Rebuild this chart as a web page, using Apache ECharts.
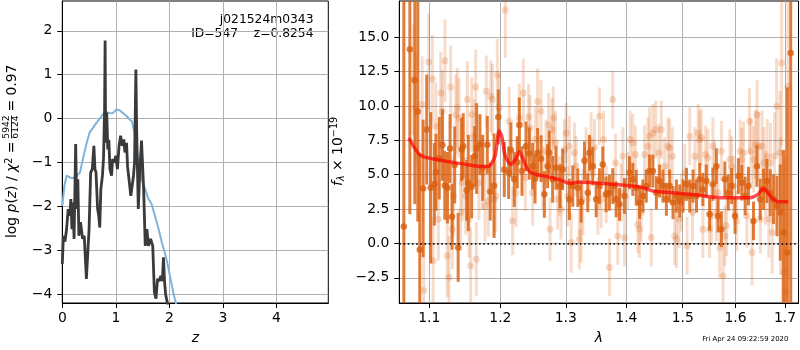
<!DOCTYPE html>
<html><head><meta charset="utf-8">
<script src="https://cdn.jsdelivr.net/npm/echarts@6/dist/echarts.min.js"></script>
<style>html,body{margin:0;padding:0;background:#fff}#c{width:800px;height:350px}</style>
</head><body><div id="c"></div>
<script>
// ---------- Left panel: log p(z) ----------
const zBlack = [0.00,0.02,0.05,0.08,0.11,0.14,0.16,0.18,0.20,0.22,0.25,0.27,0.29,0.31,0.34,0.38,0.41,0.45,0.48,0.50,0.53,0.56,0.59,0.61,0.63,0.66,0.68,0.70,0.72,0.75,0.77,0.79,0.80,0.81,0.83,0.85,0.87,0.89,0.92,0.94,0.97,1.00,1.03,1.06,1.09,1.12,1.15,1.17,1.20,1.22,1.26,1.28,1.30,1.33,1.35,1.375,1.39,1.42,1.45,1.48,1.52,1.55,1.58,1.61,1.65,1.69,1.72,1.75,1.78,1.81,1.84,1.87,1.89,1.91,1.93,1.96,2.00];
const logpBlack = [-3.31,-2.67,-2.80,-2.52,-2.06,-2.21,-1.83,-2.52,-1.91,-2.74,-0.58,-2.06,-1.38,-2.67,-2.36,-2.74,-2.67,-3.65,-2.97,-2.52,-1.23,-1.15,-0.62,-1.15,-1.23,-2.06,-2.21,-2.48,-1.61,-1.30,-0.90,0.20,1.78,-0.55,0.14,-0.70,-0.48,-1.15,-1.30,-0.92,-1.00,-0.85,-1.15,-0.62,-0.39,-0.62,-0.47,-0.77,-0.55,-1.10,-1.53,-1.76,-1.76,-1.30,-1.00,1.12,-0.32,-2.06,-1.15,-0.50,-1.61,-2.90,-2.52,-2.90,-2.74,-2.90,-3.95,-4.10,-3.65,-3.70,-3.58,-3.70,-3.16,-3.70,-4.00,-4.18,-4.60];
const zBlue = [0.00,0.04,0.08,0.14,0.20,0.27,0.33,0.39,0.45,0.51,0.58,0.64,0.70,0.76,0.82,0.89,0.95,1.01,1.07,1.14,1.20,1.26,1.30,1.35,1.39,1.45,1.48,1.55,1.61,1.67,1.74,1.80,1.86,1.93,1.99,2.03,2.08,2.14,2.20];
const logpBlue = [-1.99,-1.53,-1.30,-1.34,-1.36,-1.30,-1.23,-0.89,-0.58,-0.32,-0.20,-0.09,0.00,0.10,0.15,0.12,0.13,0.21,0.19,0.12,0.06,-0.02,-0.06,-0.32,-0.70,-1.08,-1.38,-1.61,-1.83,-1.95,-2.25,-2.52,-2.82,-3.12,-3.45,-3.70,-4.00,-4.29,-4.60];
const zTicks = [0,1,2,3,4];
const logpTicks = [-4,-3,-2,-1,0,1,2];

// ---------- Right panel: spectrum ----------
const darkLam = [1.0662,1.0741,1.0806,1.0846,1.0872,1.0917,1.0965,1.1019,1.1068,1.1090,1.1135,1.1178,1.1210,1.1247,1.1283,1.1310,1.1347,1.1395,1.1443,1.1466,1.1514,1.1537,1.1585,1.1628,1.1656,1.1703,1.1743,1.1809,1.1852,1.1907,1.1969,1.2057,1.2121,1.2155,1.2205,1.2250,1.2281,1.2321,1.2382,1.2432,1.2483,1.2520,1.2559,1.2612,1.2663,1.2714,1.2740,1.2792,1.2846,1.2909,1.2950,1.3057,1.3111,1.3192,1.3246,1.3300,1.3354,1.3382,1.3436,1.3492,1.3546,1.3601,1.3657,1.3713,1.3769,1.3826,1.3883,1.3968,1.4054,1.4111,1.4171,1.4229,1.4287,1.4346,1.4404,1.4462,1.4524,1.4582,1.4642,1.4703,1.4762,1.4823,1.4885,1.4945,1.5006,1.5069,1.5130,1.5191,1.5255,1.5315,1.5375,1.5440,1.5502,1.5565,1.5631,1.5663,1.5728,1.5794,1.5860,1.5926,1.5992,1.6058,1.6125,1.6191,1.6257,1.6358,1.6426,1.6493,1.6560,1.6629,1.6696,1.6765,1.6835,1.6903,1.6972,1.7050,1.7120];
const darkFlux = [1.23,14.13,11.86,9.59,-0.46,4.00,8.28,4.05,4.30,5.17,6.20,7.15,4.22,4.05,6.90,1.95,5.70,-0.29,6.83,7.07,3.86,4.40,4.13,6.35,6.90,7.20,5.50,7.17,3.77,4.20,9.20,5.38,5.14,6.80,4.66,5.90,8.62,5.26,7.07,6.54,5.62,4.70,6.59,6.16,3.57,5.62,6.60,4.66,5.50,4.17,5.38,3.21,4.17,4.05,3.01,6.01,3.69,6.59,5.62,3.21,4.17,5.75,3.57,3.69,4.17,3.21,2.85,3.45,5.14,4.66,4.05,2.97,3.45,4.17,5.26,5.26,3.69,4.54,4.17,3.21,4.17,2.97,3.45,3.09,3.45,4.30,3.45,4.17,3.45,4.66,3.93,4.54,2.12,4.30,5.62,2.00,1.04,4.66,3.69,4.17,2.00,4.90,4.42,3.45,4.17,1.64,5.62,3.21,3.93,4.54,3.69,3.21,2.72,2.25,0.80,-0.65,13.84];
const darkErr = [22,12,9,8,7,5,4,5.5,3.0,2.8,3.0,2.6,2.5,2.6,2.5,2.4,2.8,2.5,2.3,2.4,2.2,3.5,2.3,2.2,3.3,2.2,2.4,2.1,2.1,3.8,2.0,2.0,1.9,2.0,2.0,1.9,2.0,1.8,1.8,1.9,1.7,1.8,1.8,1.7,1.7,1.6,1.6,1.7,1.6,1.6,1.5,1.5,1.5,1.4,1.5,1.4,1.4,1.3,1.4,1.3,1.3,1.3,1.3,1.3,1.3,1.3,1.2,1.3,1.2,1.2,1.3,1.2,1.2,1.2,1.2,1.2,1.2,1.2,1.2,1.2,1.2,1.2,1.2,1.2,1.2,1.2,1.2,1.2,1.2,1.2,1.2,1.2,1.2,1.2,1.3,1.2,1.3,1.3,1.3,1.3,1.3,1.3,1.3,1.4,1.4,1.4,1.5,1.5,1.5,1.6,1.7,1.8,2.2,3.5,6,12,25];

const lightLam = [1.0788,1.0815,1.0904,1.0925,1.0991,1.1041,1.1051,1.1087,1.1122,1.1155,1.1177,1.1213,1.1244,1.1268,1.1291,1.1314,1.1328,1.1361,1.1383,1.1407,1.1430,1.1453,1.1501,1.1524,1.1547,1.1571,1.1585,1.1618,1.1642,1.1651,1.1689,1.1737,1.1776,1.1795,1.1824,1.1859,1.1882,1.1907,1.1932,1.1955,1.1980,1.2072,1.2131,1.2180,1.2231,1.2281,1.2341,1.2371,1.2422,1.2443,1.2483,1.2524,1.2559,1.2612,1.2637,1.2689,1.2730,1.2752,1.2783,1.2803,1.2835,1.2871,1.2898,1.2925,1.2978,1.3005,1.3031,1.3057,1.3085,1.3138,1.3165,1.3218,1.3246,1.3272,1.3327,1.3382,1.3410,1.3465,1.3520,1.3546,1.3575,1.3614,1.3659,1.3713,1.3769,1.3815,1.3854,1.3912,1.3940,1.3968,1.4025,1.4066,1.4111,1.4157,1.4198,1.4227,1.4257,1.4315,1.4373,1.4404,1.4433,1.4462,1.4510,1.4569,1.4612,1.4671,1.4732,1.4762,1.4812,1.4853,1.4885,1.4933,1.4977,1.5039,1.5081,1.5130,1.5181,1.5225,1.5287,1.5315,1.5345,1.5375,1.5426,1.5469,1.5502,1.5535,1.5565,1.5598,1.5631,1.5663,1.5695,1.5728,1.5760,1.5794,1.5827,1.5893,1.5926,1.5959,1.6025,1.6092,1.6125,1.6159,1.6226,1.6278,1.6307,1.6328,1.6359,1.6395,1.6429,1.6462,1.6497,1.6532,1.6565,1.6600,1.6635,1.6668,1.6702,1.6737,1.6785,1.6827,1.6895,1.6910,1.6931,1.6945,1.6979,1.7014,1.7062];
const lightFlux = [11.90,9.86,10.10,-3.43,13.20,11.96,-1.26,8.52,1.76,10.94,9.61,13.28,-0.90,-2.46,11.38,1.04,3.45,9.37,9.86,9.13,2.25,4.42,3.45,10.46,1.76,-1.62,9.37,7.80,11.38,-1.14,4.42,5.14,2.72,11.06,3.09,10.70,10.46,3.21,3.45,12.27,9.86,16.98,8.88,1.64,3.69,9.13,10.94,4.78,9.20,8.40,3.69,7.56,10.33,9.61,4.78,6.71,8.64,1.04,8.28,9.13,7.32,3.21,4.17,2.49,6.83,8.04,3.45,7.07,0.07,6.59,5.62,0.31,0.80,3.21,6.35,5.14,7.43,6.96,2.72,9.25,3.21,7.56,3.57,-1.74,10.46,5.87,0.55,3.69,6.35,0.43,4.54,7.56,7.32,6.47,1.40,1.04,2.25,6.47,7.07,7.80,0.43,8.04,8.28,6.59,8.28,5.62,7.07,6.96,6.35,0.55,0.31,1.76,2.97,5.14,-0.17,7.80,2.25,6.35,8.04,7.56,7.73,1.04,6.47,6.23,1.04,2.00,7.07,5.38,2.25,3.69,-0.29,6.71,-2.35,0.55,1.28,6.11,5.62,4.17,1.64,6.71,6.11,6.59,2.00,8.88,6.71,-0.65,6.11,7.20,9.37,7.07,1.76,7.07,5.87,4.06,6.35,1.76,5.87,0.80,6.35,9.97,6.59,2.72,13.12,0.80,-2.10,-3.55,11.42];
const lightErr = [4,4,3.5,3.5,3.5,3.2,3.2,3.2,3.0,3.0,3.0,3.0,3.0,3.0,3.0,2.9,2.9,2.9,2.9,2.9,2.8,2.8,2.8,2.8,2.8,2.8,2.7,2.7,2.7,2.7,2.7,2.7,2.6,2.6,2.6,2.6,2.6,2.6,2.6,2.6,2.5,3.5,2.5,2.5,2.5,2.5,2.5,2.4,2.4,2.4,2.4,2.4,2.4,2.3,2.3,2.3,2.3,2.3,2.3,2.3,2.3,2.2,2.2,2.2,2.2,2.2,2.2,2.2,2.2,2.2,2.2,2.2,2.2,2.2,2.1,2.1,2.1,2.1,2.1,2.1,2.1,2.1,2.1,2.1,2.1,2.1,2.1,2.1,2.1,2.1,2.1,2.1,2.1,2.1,2.1,2.1,2.1,2.1,2.1,2.1,2.1,2.1,2.1,2.1,2.1,2.1,2.1,2.1,2.1,2.1,2.1,2.1,2.1,2.1,2.1,2.1,2.1,2.1,2.1,2.1,2.1,2.1,2.1,2.1,2.1,2.1,2.1,2.1,2.1,2.1,2.2,2.2,2.2,2.2,2.2,2.2,2.2,2.2,2.2,2.3,2.3,2.3,2.3,2.4,2.4,2.4,2.4,2.5,2.5,2.5,2.5,2.6,2.6,2.7,2.7,2.8,2.9,3.0,3.2,3.5,4.5,5,6,6,8,10,14];

const modelLam = [1.0729,1.0796,1.0862,1.0929,1.1041,1.1269,1.1502,1.1716,1.1830,1.1890,1.1925,1.1982,1.2020,1.2072,1.2155,1.2230,1.2281,1.2340,1.2406,1.2482,1.2740,1.2950,1.3057,1.3218,1.3546,1.4111,1.4286,1.4462,1.4821,1.5315,1.5695,1.6284,1.6450,1.6552,1.6621,1.6723,1.6859,1.7067];
const modelFlux = [7.67,7.00,6.50,6.30,6.16,5.94,5.75,5.60,5.62,6.00,6.40,8.20,7.80,6.35,5.75,6.20,6.65,6.10,5.40,5.10,4.83,4.54,4.37,4.46,4.37,4.17,4.06,3.81,3.69,3.50,3.33,3.33,3.57,3.99,3.81,3.33,3.04,3.04];
const lamTicks = [1.1,1.2,1.3,1.4,1.5,1.6,1.7];
const fluxTicks = [-2.5,0.0,2.5,5.0,7.5,10.0,12.5,15.0];

const FONT = 'DejaVu Sans';
const minus = s => String(s).replace('-', '\u2212');
const LN = Math.log;

function errRender(color, width) {
  return function (params, api) {
    const x = api.value(0), y = api.value(1), e = api.value(2);
    const p1 = api.coord([x, y - e]), p2 = api.coord([x, y + e]);
    const cs = params.coordSys;
    const top = cs.y, bot = cs.y + cs.height;
    const c = v => Math.min(bot, Math.max(top, v));
    return { type: 'line', shape: { x1: p1[0], y1: c(p1[1]), x2: p2[0], y2: c(p2[1]) },
             style: { stroke: color, lineWidth: width } };
  };
}

const gridLine = { show: true, lineStyle: { color: '#b0b0b0', width: 1 } };
const axLine = { show: true, onZero: false, lineStyle: { color: '#000', width: 1 } };
const tick = (vals) => ({ show: true, length: 5, lineStyle: { color: '#000', width: 1 }, customValues: vals });
const lab = (vals, fmt, margin) => ({ customValues: vals, formatter: fmt, color: '#000', fontFamily: FONT, fontSize: 13.9, margin: margin });

const chart = echarts.init(document.getElementById('c'), null, { renderer: 'canvas' });
chart.setOption({
  animation: false,
  backgroundColor: '#fff',
  grid: [
    { left: 62.3, right: 471.7, top: 1, bottom: 46, show: true, borderColor: '#000', borderWidth: 1, backgroundColor: 'transparent' },
    { left: 399.3, right: 1.5, top: 1, bottom: 46, show: true, borderColor: '#000', borderWidth: 1, backgroundColor: 'transparent' }
  ],
  xAxis: [
    { type: 'value', gridIndex: 0, min: 0, max: 4.97, axisLine: axLine, axisTick: tick(zTicks),
      axisLabel: lab(zTicks, v => minus(v), 8), splitLine: gridLine,
      name: 'z', nameLocation: 'middle', nameGap: 28,
      nameTextStyle: { fontFamily: FONT, fontSize: 13.9, fontStyle: 'italic', color: '#000' } },
    { type: 'value', gridIndex: 1, min: LN(1.0603), max: LN(1.7284), axisLine: axLine, axisTick: tick(lamTicks.map(LN)),
      axisLabel: lab(lamTicks.map(LN), v => Math.exp(v).toFixed(1), 8), splitLine: gridLine,
      name: '\u03bb', nameLocation: 'middle', nameGap: 28,
      nameTextStyle: { fontFamily: FONT, fontSize: 13.9, fontStyle: 'italic', color: '#000' } }
  ],
  yAxis: [
    { type: 'value', gridIndex: 0, min: -4.2, max: 2.68, axisLine: axLine, axisTick: tick(logpTicks),
      axisLabel: lab(logpTicks, v => minus(v), 10), splitLine: gridLine },
    { type: 'value', gridIndex: 1, min: -4.33, max: 17.63, axisLine: axLine, axisTick: tick(fluxTicks),
      axisLabel: lab(fluxTicks, v => minus(v.toFixed(1)), 10), splitLine: gridLine }
  ],
  series: [
    { type: 'line', xAxisIndex: 0, yAxisIndex: 0, data: zBlue.map((z, i) => [z, logpBlue[i]]),
      showSymbol: false, lineStyle: { color: '#80b3d9', width: 2 }, clip: true },
    { type: 'line', xAxisIndex: 0, yAxisIndex: 0, data: zBlack.map((z, i) => [z, logpBlack[i]]),
      showSymbol: false, lineStyle: { color: '#3a3a3a', width: 2.8 }, clip: true },
    { type: 'custom', xAxisIndex: 1, yAxisIndex: 1, clip: true, renderItem: errRender('rgba(217,96,16,0.22)', 3),
      encode: { x: 0, y: 1 }, data: lightLam.map((l, i) => [LN(l), lightFlux[i], lightErr[i]]) },
    { type: 'scatter', xAxisIndex: 1, yAxisIndex: 1, symbolSize: 7, clip: true,
      itemStyle: { color: 'rgba(217,96,16,0.28)' }, data: lightLam.map((l, i) => [LN(l), lightFlux[i]]) },
    { type: 'custom', xAxisIndex: 1, yAxisIndex: 1, clip: true, renderItem: errRender('rgba(217,96,16,0.82)', 3),
      encode: { x: 0, y: 1 }, data: darkLam.map((l, i) => [LN(l), darkFlux[i], darkErr[i]]) },
    { type: 'scatter', xAxisIndex: 1, yAxisIndex: 1, symbolSize: 6.5, clip: true,
      itemStyle: { color: 'rgb(217,96,16)' }, data: darkLam.map((l, i) => [LN(l), darkFlux[i]]) },
    { type: 'line', xAxisIndex: 1, yAxisIndex: 1, data: modelLam.map((l, i) => [LN(l), modelFlux[i]]),
      showSymbol: false, smooth: 0.25, lineStyle: { color: 'rgba(255,0,0,0.7)', width: 3.5 }, clip: true,
      markLine: { silent: true, symbol: ['none', 'none'], label: { show: false },
        lineStyle: { color: '#000', type: [1.6, 2.6], width: 1.6 }, data: [{ yAxis: 0 }] } }
  ],
  graphic: [
    { type: 'text', x: 313.5, y: 20, style: { text: 'j021524m0343', fontFamily: FONT, fontSize: 12.3, fill: '#000', align: 'right', verticalAlign: 'middle' } },
    { type: 'text', x: 313.5, y: 34.3, style: { text: 'ID=547    z=0.8254', fontFamily: FONT, fontSize: 12.3, fill: '#000', align: 'right', verticalAlign: 'middle' } },
    { type: 'text', x: 788.3, y: 339.3, style: { text: 'Fri Apr 24 09:22:59 2020', fontFamily: FONT, fontSize: 6.9, fill: '#000', align: 'right', verticalAlign: 'middle' } },
    { type: 'group', x: 12.5, y: 238, rotation: Math.PI / 2, children: [
      { type: 'text', x: 0, y: 0, style: { text: '{n|log }{i|p}{n|(}{i|z}{n|) / }{i|\u03c7}{s|2}{n| =}', align: 'left', verticalAlign: 'middle',
        rich: { n: { fontFamily: FONT, fontSize: 13.9, fill: '#000' }, i: { fontFamily: FONT, fontSize: 13.9, fontStyle: 'italic', fill: '#000' },
                s: { fontFamily: FONT, fontSize: 9.7, fill: '#000', padding: [0, 0, 7, 0] } } } },
      { type: 'text', x: 111, y: -5.5, style: { text: '5942', fontFamily: FONT, fontSize: 9.2, fill: '#000', align: 'center', verticalAlign: 'middle' } },
      { type: 'line', shape: { x1: 99.5, y1: -1, x2: 122.5, y2: -1 }, style: { stroke: '#000', lineWidth: 0.8 } },
      { type: 'text', x: 111, y: 3.5, style: { text: '6124', fontFamily: FONT, fontSize: 9.2, fill: '#000', align: 'center', verticalAlign: 'middle' } },
      { type: 'text', x: 122, y: 0, style: { text: ' = 0.97', fontFamily: FONT, fontSize: 13.9, fill: '#000', align: 'left', verticalAlign: 'middle' } }
    ] },
    { type: 'group', x: 338, y: 186, rotation: Math.PI / 2, children: [
      { type: 'text', x: 0, y: 0, style: { text: '{i|f}{sub|\u03bb}{n| \u00d7 10}{sup|\u221219}', align: 'left', verticalAlign: 'middle',
        rich: { n: { fontFamily: FONT, fontSize: 13.9, fill: '#000' }, i: { fontFamily: FONT, fontSize: 13.9, fontStyle: 'italic', fill: '#000' },
                sub: { fontFamily: FONT, fontSize: 9.7, fontStyle: 'italic', fill: '#000', padding: [6, 0, 0, 0] },
                sup: { fontFamily: FONT, fontSize: 9.7, fill: '#000', padding: [0, 0, 8, 0] } } } }
    ] }
  ]
});
</script></body></html>
